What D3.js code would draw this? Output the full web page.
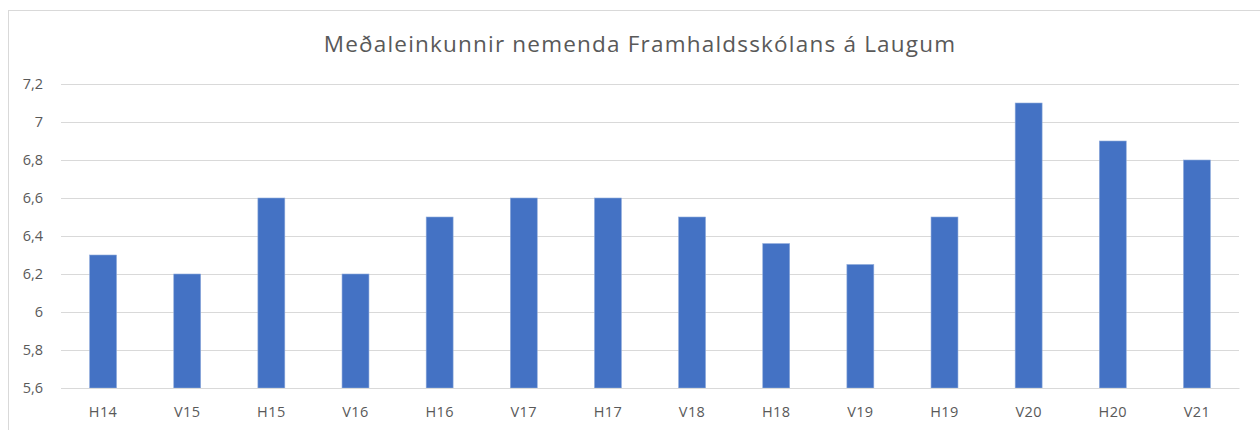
<!DOCTYPE html>
<html>
<head>
<meta charset="utf-8">
<script src="https://cdn.jsdelivr.net/npm/d3@7"></script>
<style>
  html, body { margin: 0; padding: 0; background: #fff; }
  svg { display: block; }
  text { font-family: "Open Sans", "Noto Sans", sans-serif; fill: #595959; }
</style>
</head>
<body>
<svg id="chart" width="1260" height="430"></svg>
<script>
const title = "Meðaleinkunnir nemenda Framhaldsskólans á Laugum";
const categories = ["H14","V15","H15","V16","H16","V17","H17","V18","H18","V19","H19","V20","H20","V21"];
const values = [6.3, 6.2, 6.6, 6.2, 6.5, 6.6, 6.6, 6.5, 6.36, 6.25, 6.5, 7.1, 6.9, 6.8];
const yTicks = [5.6, 5.8, 6.0, 6.2, 6.4, 6.6, 6.8, 7.0, 7.2];
const yDomain = [5.6, 7.2];

const svg = d3.select("#chart");
const plot = { left: 61, right: 1239, top: 84, bottom: 388 };

// chart border (top and left visible)
svg.append("rect").attr("x", 8.5).attr("y", 10.5).attr("width", 1300).attr("height", 500)
  .attr("fill", "none").attr("stroke", "#d9d9d9").attr("stroke-width", 1);

const x = d3.scaleBand().domain(categories).range([plot.left, plot.right])
  .paddingInner(0.68).paddingOuter(0.34);
const y = d3.scaleLinear().domain(yDomain).range([plot.bottom, plot.top]);

const fmt = v => d3.format("~g")(+v.toFixed(1)).replace(".", ",");

// gridlines + y labels
const yAxis = d3.axisLeft(y).tickValues(yTicks).tickSize(-(plot.right - plot.left)).tickFormat(fmt).tickPadding(18);
const gy = svg.append("g").attr("transform", `translate(${plot.left},0)`).call(yAxis);
gy.select(".domain").remove();
gy.selectAll(".tick line").attr("stroke", "#d9d9d9").attr("stroke-width", 1);
gy.selectAll(".tick text").attr("font-size", 14.5).attr("fill", "#595959")
  .style("font-family", "'Open Sans', sans-serif");

// bars
svg.append("g").selectAll("rect").data(values).join("rect")
  .attr("x", (d, i) => x(categories[i]))
  .attr("y", d => y(d))
  .attr("width", x.bandwidth())
  .attr("height", d => y(yDomain[0]) - y(d))
  .attr("fill", "#4472C4")
  .attr("stroke", "#8eaadb").attr("stroke-width", 0.6);

// x axis
const xAxis = d3.axisBottom(x).tickSize(0);
const gx = svg.append("g").attr("transform", `translate(0,${plot.bottom})`).call(xAxis);
gx.select(".domain").attr("stroke", "#d9d9d9");
gx.selectAll(".tick text").attr("font-size", 14.5).attr("fill", "#595959")
  .attr("y", 29).attr("dy", 0).attr("letter-spacing", 0.4)
  .style("font-family", "'Open Sans', sans-serif");

// title
svg.append("text").attr("x", 640).attr("y", 52).attr("text-anchor", "middle")
  .attr("font-size", 22.5).attr("letter-spacing", 1.2).attr("fill", "#595959").text(title);
</script>
</body>
</html>
